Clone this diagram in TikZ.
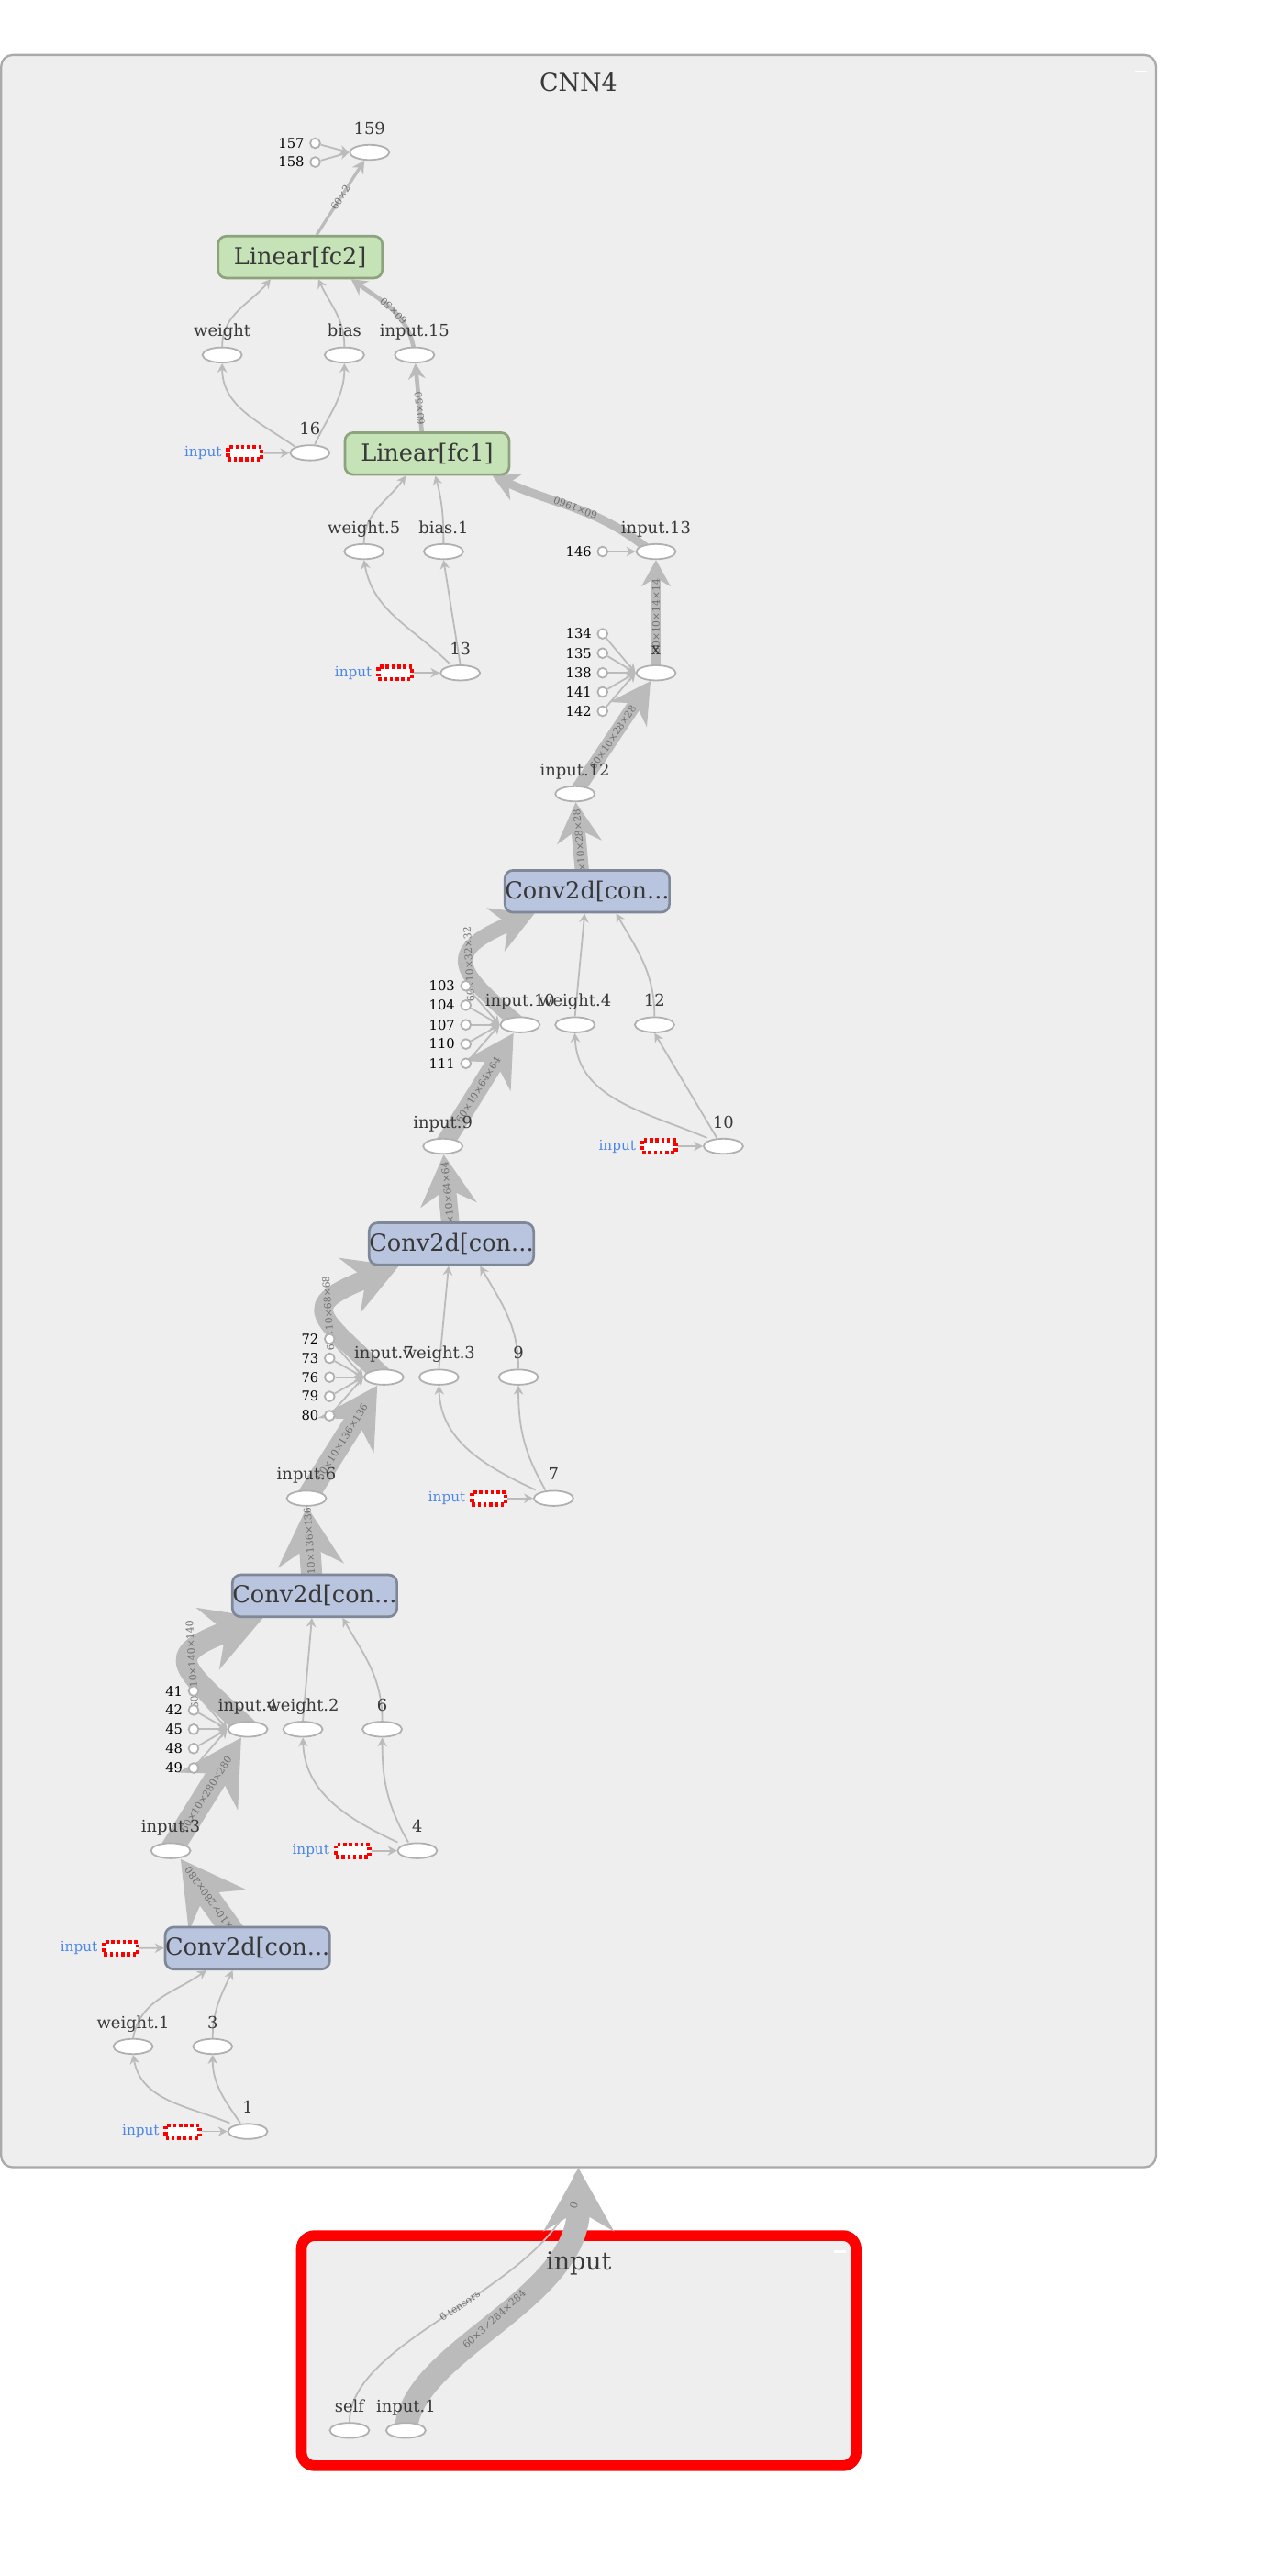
\documentclass[tikz,border=0pt]{standalone}
\usepackage{fontspec}
\setmainfont{DejaVu Serif}
\usetikzlibrary{shapes.geometric,arrows.meta}
\definecolor{bgc}{HTML}{EEEEEE}
\definecolor{framec}{HTML}{AAAAAA}
\definecolor{edgec}{HTML}{BBBBBB}
\definecolor{opc}{HTML}{B0B0B0}
\definecolor{txtc}{HTML}{383838}
\definecolor{elabc}{HTML}{707070}
\definecolor{bluec}{HTML}{4A86E8}
\definecolor{linfill}{HTML}{C6E2B7}
\definecolor{lindraw}{HTML}{8CA37E}
\definecolor{convfill}{HTML}{B9C5DE}
\definecolor{convdraw}{HTML}{7F8898}
\pgfdeclarelayer{back}
\pgfdeclarelayer{edges}
\pgfsetlayers{back,edges,main}

\begin{document}
\begin{tikzpicture}[x=1pt,y=-1pt,
    op/.style={ellipse,draw=opc,fill=white,line width=1pt,minimum width=24pt,minimum height=9.2pt,inner sep=0pt},
    cst/.style={circle,draw=opc,fill=white,line width=1pt,minimum size=6pt,inner sep=0pt},
    inp/.style={draw=red,fill=white,line width=2.5pt,dash pattern=on 2pt off 1.5pt,minimum width=20.5pt,minimum height=7.5pt,inner sep=0pt},
    lbl/.style={font=\fontsize{10}{12}\selectfont,text=txtc,inner sep=2pt,text height=7.5pt,text depth=2.3pt},
    num/.style={font=\fontsize{8.2}{10}\selectfont,text=black,inner sep=1.5pt},
    inlbl/.style={font=\fontsize{8.5}{10}\selectfont,text=bluec,inner sep=1pt},
    box/.style={rounded corners=5pt,line width=1.5pt,minimum width=100pt,minimum height=25.5pt,inner sep=0pt,font=\fontsize{14.3}{17}\selectfont,text=txtc},
    lin/.style={box,fill=linfill,draw=lindraw},
    conv/.style={box,fill=convfill,draw=convdraw},
    cluster/.style={rounded corners=7pt,fill=bgc,inner sep=0pt},
    title/.style={font=\fontsize{15}{18}\selectfont,text=txtc},
    elab/.style={font=\fontsize{6}{7}\selectfont,text=elabc,sloped,allow upside down,inner sep=1pt},
    flow/.style={draw=edgec,line width=#1,-{Stealth[length=3pt 2.5,width=3pt 2.8,inset=1pt 0.8]}},
    flow/.default=1pt,
    label distance=1.5pt]
\begin{pgfonlayer}{back}
\fill[white] (0,0) rectangle (771.1,1567.3);
\node[cluster,draw=framec,line width=1.3pt,minimum width=702.8pt,minimum height=1285.1pt] (cnn) at (352.1,676) {};
\node[cluster,draw=red,line width=6.5pt,rounded corners=8pt,minimum width=337.5pt,minimum height=140pt] (inbox) at (352.2,1430.2) {};
\draw[white,line width=1.5pt] (690.6,43.5) -- (698,43.5);
\draw[white,line width=1.5pt] (507.6,1370) -- (514.8,1370);
\end{pgfonlayer}
\useasboundingbox (0,0) rectangle (771.1,1567.3);
\node[title] (cnnt) at (352,50) {CNN4};
\node[title] (int) at (352.2,1377.3) {input};
\node[cst,label={[num]left:157}] (c157) at (191.8,87.1) {};
\node[cst,label={[num]left:158}] (c158) at (191.8,98.6) {};
\node[op,label={[lbl]above:159}] (n159) at (224.9,92.7) {};
\node[lin] (fc2) at (182.7,156.4) {Linear[fc2]};
\node[op,label={[lbl]above:weight}] (w) at (135.2,216) {};
\node[op,label={[lbl]above:bias}] (b) at (209.6,216) {};
\node[op,label={[lbl]above:input.15}] (in15) at (252.3,216) {};
\node[op,label={[lbl]above:16}] (n16) at (188.6,275.5) {};
\node[inp,label={[inlbl]left:input}] (r16) at (149,275.8) {};
\node[lin] (fc1) at (259.9,276) {Linear[fc1]};
\node[op,label={[lbl]above:weight.5}] (w5) at (221.5,335.6) {};
\node[op,label={[lbl]above:bias.1}] (b1) at (269.9,335.6) {};
\node[op,label={[lbl]above:input.13}] (in13) at (399.2,335.6) {};
\node[cst,label={[num]left:146}] (c146) at (366.7,335.6) {};
\node[op,label={[lbl]above:13}] (n13) at (280.1,409.4) {};
\node[inp,label={[inlbl]left:input}] (r13) at (240.5,409.4) {};
\node[cst,label={[num]left:134}] (c134) at (366.7,385.6) {};
\node[cst,label={[num]left:135}] (c135) at (366.7,397.4) {};
\node[cst,label={[num]left:138}] (c138) at (366.7,409.4) {};
\node[cst,label={[num]left:141}] (c141) at (366.7,421) {};
\node[cst,label={[num]left:142}] (c142) at (366.7,432.7) {};
\node[op,label={[lbl]above:x}] (x) at (399.2,409.4) {};
\node[op,label={[lbl]above:input.12}] (in12) at (349.9,483) {};
\node[conv] (conv1) at (357.3,542.3) {Conv2d[con...};
\node[cst,label={[num]left:103}] (c103) at (283.5,599.8) {};
\node[cst,label={[num]left:104}] (c104) at (283.5,611.6) {};
\node[cst,label={[num]left:107}] (c107) at (283.5,623.5) {};
\node[cst,label={[num]left:110}] (c110) at (283.5,635.2) {};
\node[cst,label={[num]left:111}] (c111) at (283.5,647) {};
\node[op,label={[lbl]above:input.10}] (in10) at (316.5,623.5) {};
\node[op,label={[lbl]above:weight.4}] (w4) at (349.9,623.5) {};
\node[op,label={[lbl]above:12}] (n12) at (398.3,623.5) {};
\node[op,label={[lbl]above:10}] (n10) at (440.2,697.4) {};
\node[inp,label={[inlbl]left:input}] (r10) at (401.1,697.4) {};
\node[op,label={[lbl]above:input.9}] (in9) at (269.5,697.4) {};
\node[conv] (conv2) at (274.7,756.8) {Conv2d[con...};
\node[cst,label={[num]left:72}] (c72) at (200.6,814.6) {};
\node[cst,label={[num]left:73}] (c73) at (200.6,826.4) {};
\node[cst,label={[num]left:76}] (c76) at (200.6,837.9) {};
\node[cst,label={[num]left:79}] (c79) at (200.6,849.6) {};
\node[cst,label={[num]left:80}] (c80) at (200.6,861.3) {};
\node[op,label={[lbl]above:input.7}] (in7) at (233.6,837.9) {};
\node[op,label={[lbl]above:weight.3}] (w3) at (267.1,837.9) {};
\node[op,label={[lbl]above:9}] (n9) at (315.5,837.9) {};
\node[op,label={[lbl]above:7}] (n7) at (336.9,911.6) {};
\node[inp,label={[inlbl]left:input}] (r7) at (297.4,911.6) {};
\node[op,label={[lbl]above:input.6}] (in6) at (186.5,911.6) {};
\node[conv] (conv3) at (191.5,970.9) {Conv2d[con...};
\node[cst,label={[num]left:41}] (c41) at (117.8,1028.8) {};
\node[cst,label={[num]left:42}] (c42) at (117.8,1040.4) {};
\node[cst,label={[num]left:45}] (c45) at (117.8,1052.1) {};
\node[cst,label={[num]left:48}] (c48) at (117.8,1063.8) {};
\node[cst,label={[num]left:49}] (c49) at (117.8,1075.7) {};
\node[op,label={[lbl]above:input.4}] (in4) at (150.8,1052.1) {};
\node[op,label={[lbl]above:weight.2}] (w2) at (184.3,1052.1) {};
\node[op,label={[lbl]above:6}] (n6) at (232.6,1052.1) {};
\node[op,label={[lbl]above:4}] (n4) at (254,1126) {};
\node[inp,label={[inlbl]left:input}] (r4) at (214.6,1126) {};
\node[op,label={[lbl]above:input.3}] (in3) at (103.9,1126) {};
\node[conv] (conv4) at (150.6,1185.3) {Conv2d[con...};
\node[inp,label={[inlbl]left:input}] (r3) at (73.5,1185.2) {};
\node[op,label={[lbl]above:weight.1}] (w1) at (81,1245.1) {};
\node[op,label={[lbl]above:3}] (n3) at (129.4,1245.1) {};
\node[op,label={[lbl]above:1}] (n1) at (150.8,1296.8) {};
\node[inp,label={[inlbl]left:input}] (r1) at (111.1,1296.8) {};
\node[op,label={[lbl]above:self}] (self) at (212.7,1478.7) {};
\node[op,label={[lbl]above:input.1}] (in1) at (247,1478.7) {};
\begin{pgfonlayer}{edges}
\draw[flow] (c157) -- (n159.west);
\draw[flow] (c158) -- (n159.west);
\draw[flow=1.8pt] ([xshift=10pt]fc2.north) -- node[elab]{60×2} (n159);
\draw[flow] (w.north) to[out=90,in=-130] ([xshift=-18pt]fc2.south);
\draw[flow] (b.north) to[out=90,in=-65] ([xshift=11pt]fc2.south);
\draw[flow=2.6pt] (in15.center) to[out=95,in=-35] node[elab]{60×50} ([xshift=31pt]fc2.south);
\draw[flow] (n16.north west) to[out=145,in=-90] (w.south);
\draw[flow] ([xshift=3pt]n16.north) to[out=65,in=-90] (b.south);
\draw[flow] (r16) -- (n16);
\draw[flow=2.6pt] ([xshift=-2pt]fc1.center) -- node[elab]{60×50} (in15);
\draw[flow] (w5.north) to[out=90,in=-125] ([xshift=-13pt]fc1.south);
\draw[flow] (b1.north) to[out=90,in=-75] ([xshift=5pt]fc1.south);
\draw[flow] ([xshift=-6pt]n13.north) to[out=135,in=-80] (w5.south);
\draw[flow] (n13.north) -- (b1.south);
\draw[flow] (r13) -- (n13);
\draw[flow=5.2pt] ([xshift=-3pt]in13.center) to[out=140,in=-25] node[elab]{60×1960} ([xshift=-11pt]fc1.south east);
\draw[flow] (c146) -- (in13);
\draw[flow=5.2pt] (x.center) -- node[elab]{60×10×14×14} (in13);
\draw[flow] (c134) -- (x.west);
\draw[flow] (c135) -- (x.west);
\draw[flow] (c138) -- (x.west);
\draw[flow] (c141) -- (x.west);
\draw[flow] (c142) -- (x.west);
\draw[flow=8.5pt] (in12.center) -- node[elab]{60×10×28×28} (x);
\draw[flow=8.5pt] ([xshift=-2pt]conv1.center) -- node[elab]{60×10×28×28} (in12);
\draw[flow=9pt] (in10.center) .. controls (280,592) and (267,580) .. node[elab]{60×10×32×32} ([xshift=-32pt]conv1.south);
\draw[flow] (w4.north) -- ([xshift=-1.5pt]conv1.south);
\draw[flow] (n12.north) to[out=90,in=-60] ([xshift=17.7pt]conv1.south);
\draw[flow] ([xshift=-10pt]n10.north) to[out=157,in=-88] (w4.south);
\draw[flow] ([xshift=-4pt]n10.north) -- (n12.south);
\draw[flow] (r10) -- (n10);
\draw[flow] (c103) -- (in10.west);
\draw[flow] (c104) -- (in10.west);
\draw[flow] (c107) -- (in10.west);
\draw[flow] (c110) -- (in10.west);
\draw[flow] (c111) -- (in10.west);
\draw[flow=11pt] (in9.center) -- node[elab]{60×10×64×64} ([xshift=-4pt]in10.south);
\draw[flow=11pt] ([xshift=0.6pt]conv2.center) -- node[elab]{60×10×64×64} (in9);
\draw[flow=11.5pt] (in7.center) .. controls (194,800) and (180,795) .. node[elab]{60×10×68×68} ([xshift=-32pt]conv2.south);
\draw[flow] (w3.north) -- ([xshift=-1.7pt]conv2.south);
\draw[flow] (n9.north) to[out=90,in=-60] ([xshift=17.5pt]conv2.south);
\draw[flow] ([xshift=-11pt]n7.north) to[out=155,in=-88] (w3.south);
\draw[flow] ([xshift=-5pt]n7.north) to[out=120,in=-90] (n9.south);
\draw[flow] (r7) -- (n7);
\draw[flow] (c72) -- (in7.west);
\draw[flow] (c73) -- (in7.west);
\draw[flow] (c76) -- (in7.west);
\draw[flow] (c79) -- (in7.west);
\draw[flow] (c80) -- (in7.west);
\draw[flow=13pt] (in6.center) -- node[elab]{60×10×136×136} ([xshift=-4pt]in7.south);
\draw[flow=13pt] ([xshift=-1pt]conv3.center) -- node[elab]{60×10×136×136} (in6);
\draw[flow=13pt] (in4.center) .. controls (111,1014) and (97,1008) .. node[elab]{60×10×140×140} ([xshift=-31.5pt]conv3.south);
\draw[flow] (w2.north) -- ([xshift=-1.7pt]conv3.south);
\draw[flow] (n6.north) to[out=90,in=-60] ([xshift=17pt]conv3.south);
\draw[flow] ([xshift=-12pt]n4.north) to[out=155,in=-88] (w2.south);
\draw[flow] ([xshift=-5.5pt]n4.north) to[out=120,in=-90] (n6.south);
\draw[flow] (r4) -- (n4);
\draw[flow] (c41) -- (in4.west);
\draw[flow] (c42) -- (in4.west);
\draw[flow] (c45) -- (in4.west);
\draw[flow] (c48) -- (in4.west);
\draw[flow] (c49) -- (in4.west);
\draw[flow=14pt] (in3.center) -- node[elab]{60×10×280×280} ([xshift=-4pt]in4.south);
\draw[flow=14pt] ([xshift=-1.7pt]conv4.center) -- node[elab]{60×10×280×280} ([xshift=6pt]in3.south);
\draw[flow] (r3) -- (conv4);
\draw[flow] (w1.north) to[out=80,in=-145] ([xshift=-25pt]conv4.south);
\draw[flow] (n3.north) to[out=90,in=-115] ([xshift=-9pt]conv4.south);
\draw[flow] ([xshift=-11pt]n1.north) to[out=158,in=-80] (w1.south);
\draw[flow] ([xshift=-4.5pt]n1.north) to[out=125,in=-90] (n3.south);
\draw[flow] (r1) -- (n1);
\draw[flow] (self.north) .. controls (212.7,1420) and (345,1390) .. node[elab]{6 tensors} (cnn.south);
\draw[flow=14pt] (in1.center) .. controls (250,1430) and (352.2,1400) .. node[elab]{60×3×284×284} node[elab,pos=0.9]{0} (cnn.south);
\end{pgfonlayer}
\end{tikzpicture}
\end{document}
